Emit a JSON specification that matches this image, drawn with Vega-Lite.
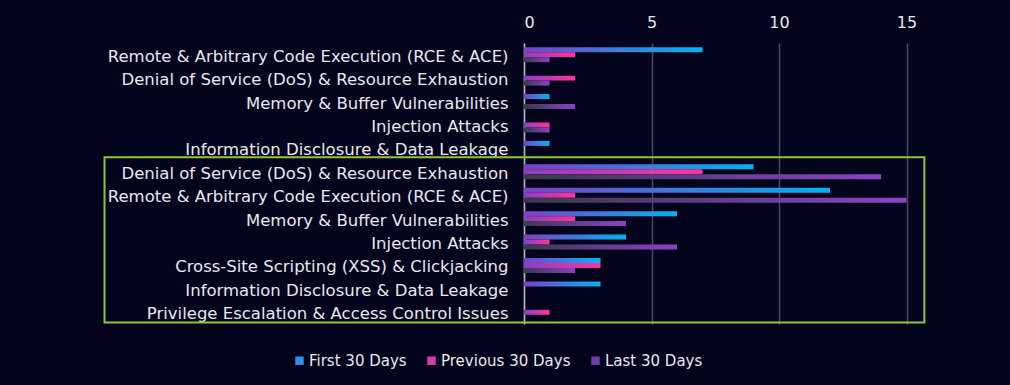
{
  "$schema": "https://vega.github.io/schema/vega-lite/v6.json",
  "width": 408,
  "height": 281,
  "autosize": {"type": "none"},
  "padding": {"left": 524, "top": 43, "right": 78, "bottom": 61},
  "background": "#04041c",
  "config": {"view": {"stroke": null}, "font": "DejaVu Sans"},
  "layer": [
    {
      "data": {"values": [{"top": 4.88, "bottom": 11.94, "left": -16.45, "right": 15.7}]},
      "mark": {"type": "rect", "filled": false, "stroke": "#8cc63f", "strokeWidth": 2, "clip": false},
      "encoding": {
        "x": {
          "field": "left",
          "type": "quantitative",
          "scale": {"domain": [0, 16], "nice": false},
          "axis": {
            "orient": "top",
            "values": [0, 5, 10, 15],
            "title": null,
            "labelFontSize": 16,
            "labelColor": "#e8e8ee",
            "labelPadding": 13,
            "ticks": false,
            "domain": false,
            "grid": true,
            "gridColor": "#474760",
            "gridWidth": 1.5
          }
        },
        "x2": {"field": "right"},
        "y": {"field": "top", "type": "quantitative", "scale": {"domain": [0, 12], "reverse": true, "nice": false, "zero": false}, "axis": null},
        "y2": {"field": "bottom"}
      }
    },
    {
      "data": {
        "values": [
          {"category": "Remote & Arbitrary Code Execution (RCE & ACE)", "period": "First 30 Days", "count": 7},
          {"category": "Remote & Arbitrary Code Execution (RCE & ACE)", "period": "Previous 30 Days", "count": 2},
          {"category": "Remote & Arbitrary Code Execution (RCE & ACE)", "period": "Last 30 Days", "count": 1},
          {"category": "Denial of Service (DoS) & Resource Exhaustion", "period": "Previous 30 Days", "count": 2},
          {"category": "Denial of Service (DoS) & Resource Exhaustion", "period": "Last 30 Days", "count": 1},
          {"category": "Memory & Buffer Vulnerabilities", "period": "First 30 Days", "count": 1},
          {"category": "Memory & Buffer Vulnerabilities", "period": "Last 30 Days", "count": 2},
          {"category": "Injection Attacks", "period": "Previous 30 Days", "count": 1},
          {"category": "Injection Attacks", "period": "Last 30 Days", "count": 1},
          {"category": "Information Disclosure & Data Leakage", "period": "First 30 Days", "count": 1},
          {"category": "Denial of Service (DoS) & Resource Exhaustion\u200b", "period": "First 30 Days", "count": 9},
          {"category": "Denial of Service (DoS) & Resource Exhaustion\u200b", "period": "Previous 30 Days", "count": 7},
          {"category": "Denial of Service (DoS) & Resource Exhaustion\u200b", "period": "Last 30 Days", "count": 14},
          {"category": "Remote & Arbitrary Code Execution (RCE & ACE)\u200b", "period": "First 30 Days", "count": 12},
          {"category": "Remote & Arbitrary Code Execution (RCE & ACE)\u200b", "period": "Previous 30 Days", "count": 2},
          {"category": "Remote & Arbitrary Code Execution (RCE & ACE)\u200b", "period": "Last 30 Days", "count": 15},
          {"category": "Memory & Buffer Vulnerabilities\u200b", "period": "First 30 Days", "count": 6},
          {"category": "Memory & Buffer Vulnerabilities\u200b", "period": "Previous 30 Days", "count": 2},
          {"category": "Memory & Buffer Vulnerabilities\u200b", "period": "Last 30 Days", "count": 4},
          {"category": "Injection Attacks\u200b", "period": "First 30 Days", "count": 4},
          {"category": "Injection Attacks\u200b", "period": "Previous 30 Days", "count": 1},
          {"category": "Injection Attacks\u200b", "period": "Last 30 Days", "count": 6},
          {"category": "Cross-Site Scripting (XSS) & Clickjacking", "period": "First 30 Days", "count": 3},
          {"category": "Cross-Site Scripting (XSS) & Clickjacking", "period": "Previous 30 Days", "count": 3},
          {"category": "Cross-Site Scripting (XSS) & Clickjacking", "period": "Last 30 Days", "count": 2},
          {"category": "Information Disclosure & Data Leakage\u200b", "period": "First 30 Days", "count": 3},
          {"category": "Privilege Escalation & Access Control Issues", "period": "Previous 30 Days", "count": 1}
        ]
      },
      "mark": {"type": "bar"},
      "encoding": {
        "y": {
          "field": "category",
          "type": "nominal",
          "sort": null,
          "scale": {
            "domain": [
              "Remote & Arbitrary Code Execution (RCE & ACE)",
              "Denial of Service (DoS) & Resource Exhaustion",
              "Memory & Buffer Vulnerabilities",
              "Injection Attacks",
              "Information Disclosure & Data Leakage",
              "Denial of Service (DoS) & Resource Exhaustion\u200b",
              "Remote & Arbitrary Code Execution (RCE & ACE)\u200b",
              "Memory & Buffer Vulnerabilities\u200b",
              "Injection Attacks\u200b",
              "Cross-Site Scripting (XSS) & Clickjacking",
              "Information Disclosure & Data Leakage\u200b",
              "Privilege Escalation & Access Control Issues"
            ],
            "paddingInner": 0.36,
            "paddingOuter": 0.18
          },
          "axis": {
            "title": null,
            "labelFontSize": 16.5,
            "labelColor": "#e8e8ee",
            "labelPadding": 16,
            "labelOffset": 2,
            "labelLimit": 600,
            "ticks": false,
            "grid": false,
            "domainColor": "#b8b8c4",
            "domainWidth": 1.5
          }
        },
        "x": {
          "field": "count",
          "type": "quantitative"
        },
        "yOffset": {
          "field": "period",
          "type": "nominal",
          "scale": {"domain": ["First 30 Days", "Previous 30 Days", "Last 30 Days"]}
        },
        "color": {
          "field": "period",
          "type": "nominal",
          "scale": {
            "domain": ["First 30 Days", "Previous 30 Days", "Last 30 Days"],
            "range": ["#2f8fe4", "#d63aaa", "#6a3ea6"]
          },
          "condition": [
            {"test": "datum.period === 'First 30 Days'", "value": {"gradient": "linear", "x1": 0, "y1": 0, "x2": 1, "y2": 0, "stops": [{"offset": 0, "color": "#7e3fc6"}, {"offset": 1, "color": "#00b4f2"}]}},
            {"test": "datum.period === 'Previous 30 Days'", "value": {"gradient": "linear", "x1": 0, "y1": 0, "x2": 1, "y2": 0, "stops": [{"offset": 0, "color": "#8a3fc2"}, {"offset": 1, "color": "#ff339c"}]}},
            {"test": "datum.period === 'Last 30 Days'", "value": {"gradient": "linear", "x1": 0, "y1": 0, "x2": 1, "y2": 0, "stops": [{"offset": 0, "color": "#3a3a4c"}, {"offset": 1, "color": "#8b42c8"}]}}
          ],
          "legend": {
            "title": null,
            "orient": "none",
            "legendX": -232,
            "legendY": 310,
            "direction": "horizontal",
            "symbolType": "square",
            "symbolSize": 72,
            "symbolStrokeWidth": 0,
            "symbolOpacity": 1,
            "labelFontSize": 15,
            "labelColor": "#e8e8ee",
            "labelOffset": 2,
            "columnPadding": 17
          }
        }
      }
    }
  ],
  "resolve": {"scale": {"y": "independent"}}
}
